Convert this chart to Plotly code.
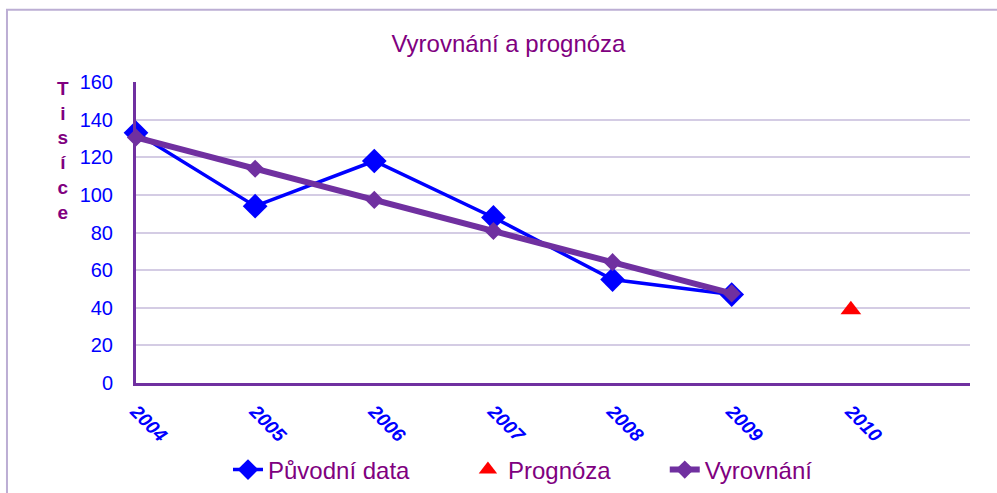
import plotly.graph_objects as go

years = [2004, 2005, 2006, 2007, 2008, 2009]
puvodni_data = [133, 94, 118, 88, 55, 47]
vyrovnani = [130.5, 113.9, 97.3, 80.8, 64.2, 47.6]
prognoza_rok = [2010]
prognoza = [39]
tick_years = [2004, 2005, 2006, 2007, 2008, 2009, 2010]

PURPLE = '#7030a0'
TEXT_PURPLE = '#800080'
BLUE = '#0000ff'

fig = go.Figure()
fig.add_trace(go.Scatter(x=years, y=puvodni_data, name='Původní data',
                         mode='lines+markers', legend='legend',
                         line=dict(color=BLUE, width=3.5),
                         marker=dict(symbol='diamond', size=19, color=BLUE),
                         cliponaxis=False))
fig.add_trace(go.Scatter(x=prognoza_rok, y=prognoza, name='Prognóza',
                         mode='markers', legend='legend2',
                         marker=dict(symbol='triangle-up', size=18, color='#ff0000'),
                         cliponaxis=False))
fig.add_trace(go.Scatter(x=years, y=vyrovnani, name='Vyrovnání',
                         mode='lines+markers', legend='legend3',
                         line=dict(color=PURPLE, width=6),
                         marker=dict(symbol='diamond', size=14, color=PURPLE),
                         cliponaxis=False))

# one legend box per entry so the gaps match the original
leg = dict(orientation='h', xanchor='left', y=-0.289, yanchor='middle',
           font=dict(size=24, color=TEXT_PURPLE), bgcolor='rgba(0,0,0,0)')

fig.update_layout(
    width=997, height=493,
    margin=dict(l=136, r=27, t=82, b=110, autoexpand=False),
    paper_bgcolor='white', plot_bgcolor='white',
    font=dict(family='Liberation Sans, Arial', color=TEXT_PURPLE),
    title=dict(text='Vyrovnání a prognóza', x=0.51, xanchor='center',
               y=0.912, yanchor='middle',
               font=dict(size=24, color=TEXT_PURPLE)),
    showlegend=True,
    legend=dict(leg, x=0.1103),
    legend2=dict(leg, x=0.398),
    legend3=dict(leg, x=0.634),
    xaxis=dict(range=[2004, 2011], tickvals=tick_years, ticktext=[str(t) for t in tick_years],
               tickangle=45, showgrid=False, zeroline=False,
               showline=True, linecolor=PURPLE, linewidth=3,
               tickfont=dict(size=19, color=BLUE, weight='bold', style='italic'),
               ticklabelstandoff=7),
    yaxis=dict(range=[0, 160], dtick=20, showgrid=True, gridcolor='#d4cce4', gridwidth=2,
               zeroline=False, showline=True, linecolor=PURPLE, linewidth=3,
               tickfont=dict(size=20, color=BLUE), ticklabelstandoff=16),
    shapes=[dict(type='rect', xref='paper', yref='paper', x0=-0.1547, x1=1.1, y0=-0.5, y1=1.24,
                 line=dict(color='#bcaed4', width=2), fillcolor='rgba(0,0,0,0)', layer='below')],
    annotations=[dict(text='T<br>i<br>s<br>í<br>c<br>e', xref='paper', yref='paper',
                      x=-0.088, y=1.02, xanchor='center', yanchor='top', showarrow=False,
                      font=dict(size=19, color=TEXT_PURPLE, weight='bold'))],
)

fig.write_html('out.html', config={'displayModeBar': False},
               post_script="document.body.style.margin='0';")
